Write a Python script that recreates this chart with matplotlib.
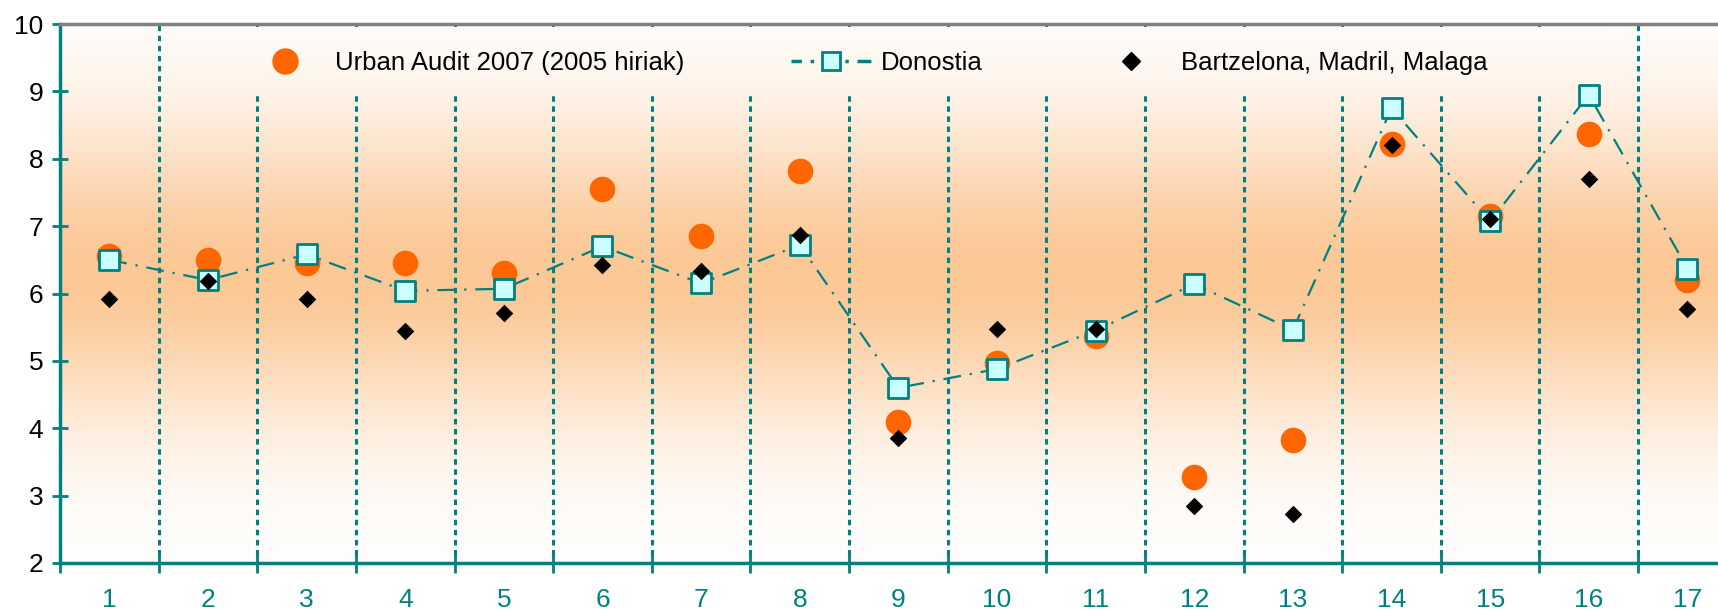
import numpy as np
import matplotlib
matplotlib.use('Agg')
import matplotlib.pyplot as plt
from matplotlib.lines import Line2D

plt.rcParams['font.family'] = ['Liberation Sans', 'DejaVu Sans']

# Datuak
categories = list(range(1, 18))
urban_audit = [6.55, 6.5, 6.45, 6.45, 6.3, 7.55, 6.85, 7.82, 4.1, 4.97, 5.37, 3.27, 3.83, 8.22, 7.15, 8.37, 6.2]
donostia = [6.5, 6.2, 6.58, 6.04, 6.07, 6.7, 6.15, 6.72, 4.6, 4.88, 5.45, 6.14, 5.46, 8.75, 7.07, 8.95, 6.37]
bmm = [5.92, 6.18, 5.92, 5.45, 5.71, 6.42, 6.33, 6.87, 3.86, 5.48, 5.48, 2.84, 2.72, 8.2, 7.1, 7.7, 5.77]
labels = ['Urban Audit 2007 (2005 hiriak)', 'Donostia', 'Bartzelona, Madril, Malaga']

teal = '#008080'
W, H = 1718, 610

fig = plt.figure(figsize=(W / 100, H / 100), dpi=100)
ax = fig.add_axes([60 / W, 1 - 563 / H, 1 - 60 / W, (563 - 24) / H])
ax_w = W - 60


# Atzeko gradientea (zuria - laranja - zuria)
def gradient(y0, y1):
    ys = np.linspace(y1, y0, 300)
    t = np.exp(-((ys - 6.3) / 2.2) ** 2)
    peak = np.array([252, 200, 150]) / 255
    return ((1 - t[:, None]) + peak[None, :] * t[:, None])[:, None, :]


ax.imshow(gradient(2, 10), extent=(0.5, 17.31, 2, 10), aspect='auto', zorder=0)

# Bertikal lerro puntudunak
for xb in np.arange(1.5, 17.5, 1.0):
    ax.plot([xb, xb], [2.12, 10], color=teal, lw=2.2, linestyle=(0, (1.8, 1.5)), zorder=1)

# Legendaren atzeko kutxa (lerroak ezkutatzen ditu)
ax.imshow(gradient(8.97, 9.94), extent=(1.7, 16.2, 8.97, 9.94), aspect='auto', zorder=2)

ax.plot(categories, donostia, color=teal, lw=1.6, linestyle=(0, (8, 4, 1, 4)), zorder=3)
ax.scatter(categories, urban_audit, s=340, color='#ff6600', zorder=4, linewidths=0)
ax.scatter(categories, donostia, s=200, marker='s', facecolor='#ccffff', edgecolor=teal,
           linewidths=2, zorder=5)
ax.scatter(categories, bmm, s=80, marker='D', color='black', zorder=6, linewidths=0)

ax.set_xlim(0.5, 17.31)
ax.set_ylim(2, 10)

# Ardatzak
ax.spines['right'].set_visible(False)
ax.spines['top'].set_color('#808080')
ax.spines['top'].set_linewidth(2.5)
for s in ['left', 'bottom']:
    ax.spines[s].set_color(teal)
    ax.spines[s].set_linewidth(2.5)

ax.set_yticks(range(2, 11))
ax.tick_params(axis='y', direction='inout', length=12, width=2, color=teal,
               labelsize=19, labelcolor='black', pad=6)
ax.set_xticks(np.arange(0.5, 17.5, 1.0))
ax.set_xticklabels([])
ax.tick_params(axis='x', which='major', direction='inout', length=14, width=2, color=teal)
ax.set_xticks(categories, minor=True)
ax.set_xticklabels([str(c) for c in categories], minor=True)
ax.tick_params(axis='x', which='minor', length=0, labelsize=19, labelcolor=teal, pad=18)

# Legenda
h1 = Line2D([], [], marker='o', color='#ff6600', markersize=18, linestyle='none')
h2 = Line2D([], [], marker='s', color=teal, markerfacecolor='#ccffff', markeredgecolor=teal,
            markersize=13, markeredgewidth=2, lw=2.5, linestyle=(1, (4, 2.5, 1, 2.5)))
h3 = Line2D([], [], marker='D', color='black', markersize=9, linestyle='none')

leg_kw = dict(frameon=False, fontsize=18.5, loc='center left', handletextpad=0.4,
              borderaxespad=0, borderpad=0, handlelength=3.1)
l1 = ax.legend([h1], [labels[0]], bbox_to_anchor=((245 - 60) / ax_w, 0.927),
               bbox_transform=ax.transAxes, **leg_kw)
ax.add_artist(l1)
l2 = ax.legend([h2], [labels[1]], bbox_to_anchor=((791 - 60) / ax_w, 0.927),
               bbox_transform=ax.transAxes, **leg_kw)
ax.add_artist(l2)
l3 = ax.legend([h3], [labels[2]], bbox_to_anchor=((1091 - 60) / ax_w, 0.927),
               bbox_transform=ax.transAxes, **leg_kw)

fig.savefig('out.png', dpi=100)
